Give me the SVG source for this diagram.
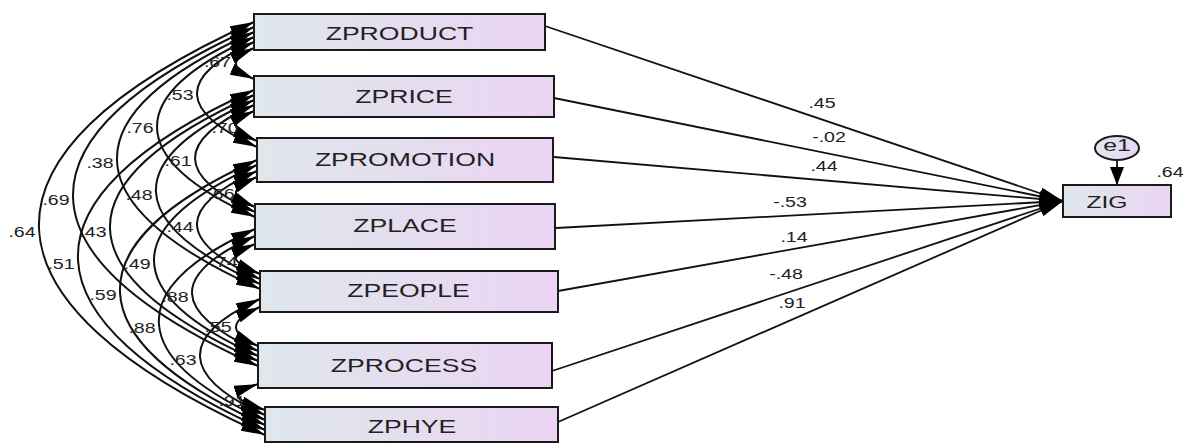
<svg xmlns="http://www.w3.org/2000/svg" width="1184" height="443" viewBox="0 0 1184 443">
<style>
.bx{stroke:#1a1a1a;stroke-width:2;fill:url(#g)}
.bl{font-family:"Liberation Sans",Arial,sans-serif;font-size:19px;fill:#222;text-anchor:middle}
.nl{font-family:"Liberation Sans",Arial,sans-serif;font-size:14px;fill:#222;text-anchor:middle}
.cv{fill:none;stroke:#111;stroke-width:2;marker-start:url(#ah);marker-end:url(#ah)}
.rg{fill:none;stroke:#111;stroke-width:1.8;marker-end:url(#ah)}
</style>
<defs>
<linearGradient id="g" x1="0" y1="0" x2="1" y2="0">
<stop offset="0" stop-color="#dfe7ec"/>
<stop offset="1" stop-color="#ebd4f3"/>
</linearGradient>
<marker id="ah" viewBox="0 0 24 12" refX="24" refY="6" markerWidth="24" markerHeight="12" markerUnits="userSpaceOnUse" orient="auto-start-reverse">
<path d="M0,0 L24,6 L0,12 z" fill="#000"/>
</marker>
<marker id="av" viewBox="0 0 18 14" refX="18" refY="7" markerWidth="18" markerHeight="14" markerUnits="userSpaceOnUse" orient="auto">
<path d="M0,0 L18,7 L0,14 z" fill="#000"/>
</marker>
</defs>

<g id="connectors">
<path class="cv" d="M254,48 C230,58.8 230,68.2 254,79"/>
<path class="cv" d="M254,42 C176,77.1 179,111.9 257,147"/>
<path class="cv" d="M254,37 C124,95.5 125,158.5 255,217"/>
<path class="cv" d="M254,32 C67.3,116 73.3,205 260,289"/>
<path class="cv" d="M254,27 C10,136.8 14,256.2 258,366"/>
<path class="cv" d="M254,22 C-40,154.3 -29,302.7 265,435"/>
<path class="cv" d="M254,111 C228,122.7 231,129.3 257,141"/>
<path class="cv" d="M254,105 C174.7,140.7 175.7,176.3 255,212"/>
<path class="cv" d="M254,100 C119.3,160.6 125.3,223.4 260,284"/>
<path class="cv" d="M254,95 C59.3,182.6 63.3,273.4 258,361"/>
<path class="cv" d="M254,90 C12,198.9 23,321.1 265,430"/>
<path class="cv" d="M257,177 C230.3,189 228.3,195 255,207"/>
<path class="cv" d="M257,171 C175,207.9 178,242.1 260,279"/>
<path class="cv" d="M257,165 C119,227.1 120,293.9 258,356"/>
<path class="cv" d="M257,160 C69,244.6 77,340.4 265,425"/>
<path class="cv" d="M255,244 C226.3,256 231.3,262 260,274"/>
<path class="cv" d="M255,236 C169,274.7 172,312.3 258,351"/>
<path class="cv" d="M255,229 C120.3,289.6 130.3,359.4 265,420"/>
<path class="cv" d="M260,307 C229.3,320.8 227.3,332.2 258,346"/>
<path class="cv" d="M260,299 C176.7,336.5 181.7,377.5 265,415"/>
<path class="cv" d="M258,384 C226.7,394.4 233.7,399.6 265,410"/>

<line class="rg" x1="545" y1="26" x2="1063" y2="201"/>
<line class="rg" x1="554" y1="98" x2="1063" y2="201"/>
<line class="rg" x1="554" y1="157" x2="1063" y2="201"/>
<line class="rg" x1="556" y1="228" x2="1063" y2="201"/>
<line class="rg" x1="558" y1="291" x2="1063" y2="201"/>
<line class="rg" x1="552" y1="371" x2="1063" y2="201"/>
<line class="rg" x1="558" y1="422" x2="1063" y2="201"/>
<line x1="1117" y1="160" x2="1117" y2="185" stroke="#111" stroke-width="1.8" marker-end="url(#av)"/>
</g>

<g id="labels">
<text class="nl" transform="translate(217.5,67) scale(1.4,1)">.67</text>
<text class="nl" transform="translate(180,100) scale(1.4,1)">.53</text>
<text class="nl" transform="translate(140,133) scale(1.4,1)">.76</text>
<text class="nl" transform="translate(100,168) scale(1.4,1)">.38</text>
<text class="nl" transform="translate(56,205) scale(1.4,1)">.69</text>
<text class="nl" transform="translate(22,237) scale(1.4,1)">.64</text>
<text class="nl" transform="translate(225,133) scale(1.4,1)">.70</text>
<text class="nl" transform="translate(178,166) scale(1.4,1)">.61</text>
<text class="nl" transform="translate(139,200) scale(1.4,1)">.48</text>
<text class="nl" transform="translate(93,237) scale(1.4,1)">.43</text>
<text class="nl" transform="translate(61,269) scale(1.4,1)">.51</text>
<text class="nl" transform="translate(221,199) scale(1.4,1)">.66</text>
<text class="nl" transform="translate(180,232) scale(1.4,1)">.44</text>
<text class="nl" transform="translate(137,269) scale(1.4,1)">.49</text>
<text class="nl" transform="translate(103,300) scale(1.4,1)">.59</text>
<text class="nl" transform="translate(224,267) scale(1.4,1)">.74</text>
<text class="nl" transform="translate(175,302) scale(1.4,1)">.88</text>
<text class="nl" transform="translate(142,333) scale(1.4,1)">.88</text>
<text class="nl" transform="translate(218,332) scale(1.4,1)">.55</text>
<text class="nl" transform="translate(183,365) scale(1.4,1)">.63</text>
<text class="nl" transform="translate(232,406) scale(1.4,1)">.91</text>

<text class="nl" transform="translate(822,108) scale(1.4,1)">.45</text>
<text class="nl" transform="translate(829,142) scale(1.4,1)">-.02</text>
<text class="nl" transform="translate(824,171) scale(1.4,1)">.44</text>
<text class="nl" transform="translate(790,207) scale(1.4,1)">-.53</text>
<text class="nl" transform="translate(794,242) scale(1.4,1)">.14</text>
<text class="nl" transform="translate(786,279) scale(1.4,1)">-.48</text>
<text class="nl" transform="translate(792,308) scale(1.4,1)">.91</text>
<text class="nl" transform="translate(1170,177) scale(1.4,1)">.64</text>
</g>

<g id="ZPRODUCT"><rect class="bx" x="254" y="14" width="291" height="36"/><text class="bl" transform="translate(399.5,39.5) scale(1.4,1)">ZPRODUCT</text></g>
<g id="ZPRICE"><rect class="bx" x="254" y="76" width="300" height="41"/><text class="bl" transform="translate(404,102.5) scale(1.4,1)">ZPRICE</text></g>
<g id="ZPROMOTION"><rect class="bx" x="257" y="138" width="296" height="44"/><text class="bl" transform="translate(405,166) scale(1.4,1)">ZPROMOTION</text></g>
<g id="ZPLACE"><rect class="bx" x="255" y="204" width="300" height="45"/><text class="bl" transform="translate(405,232) scale(1.4,1)">ZPLACE</text></g>
<g id="ZPEOPLE"><rect class="bx" x="260" y="271" width="298" height="41"/><text class="bl" transform="translate(408.5,297) scale(1.4,1)">ZPEOPLE</text></g>
<g id="ZPROCESS"><rect class="bx" x="258" y="343" width="294" height="45"/><text class="bl" transform="translate(404,372) scale(1.4,1)">ZPROCESS</text></g>
<g id="ZPHYE"><rect class="bx" x="265" y="407" width="293" height="35"/><text class="bl" transform="translate(412,433) scale(1.4,1)">ZPHYE</text></g>
<g id="ZIG"><rect class="bx" x="1063" y="185" width="108" height="32"/><text class="bl" style="font-size:17px" transform="translate(1107,207.5) scale(1.45,1)">ZIG</text></g>
<g id="e1"><ellipse cx="1117" cy="148" rx="22" ry="12" fill="url(#g)" stroke="#1a1a1a" stroke-width="2"/><text class="bl" style="font-size:16px" transform="translate(1117,151) scale(1.55,1)">e1</text></g>
</svg>
